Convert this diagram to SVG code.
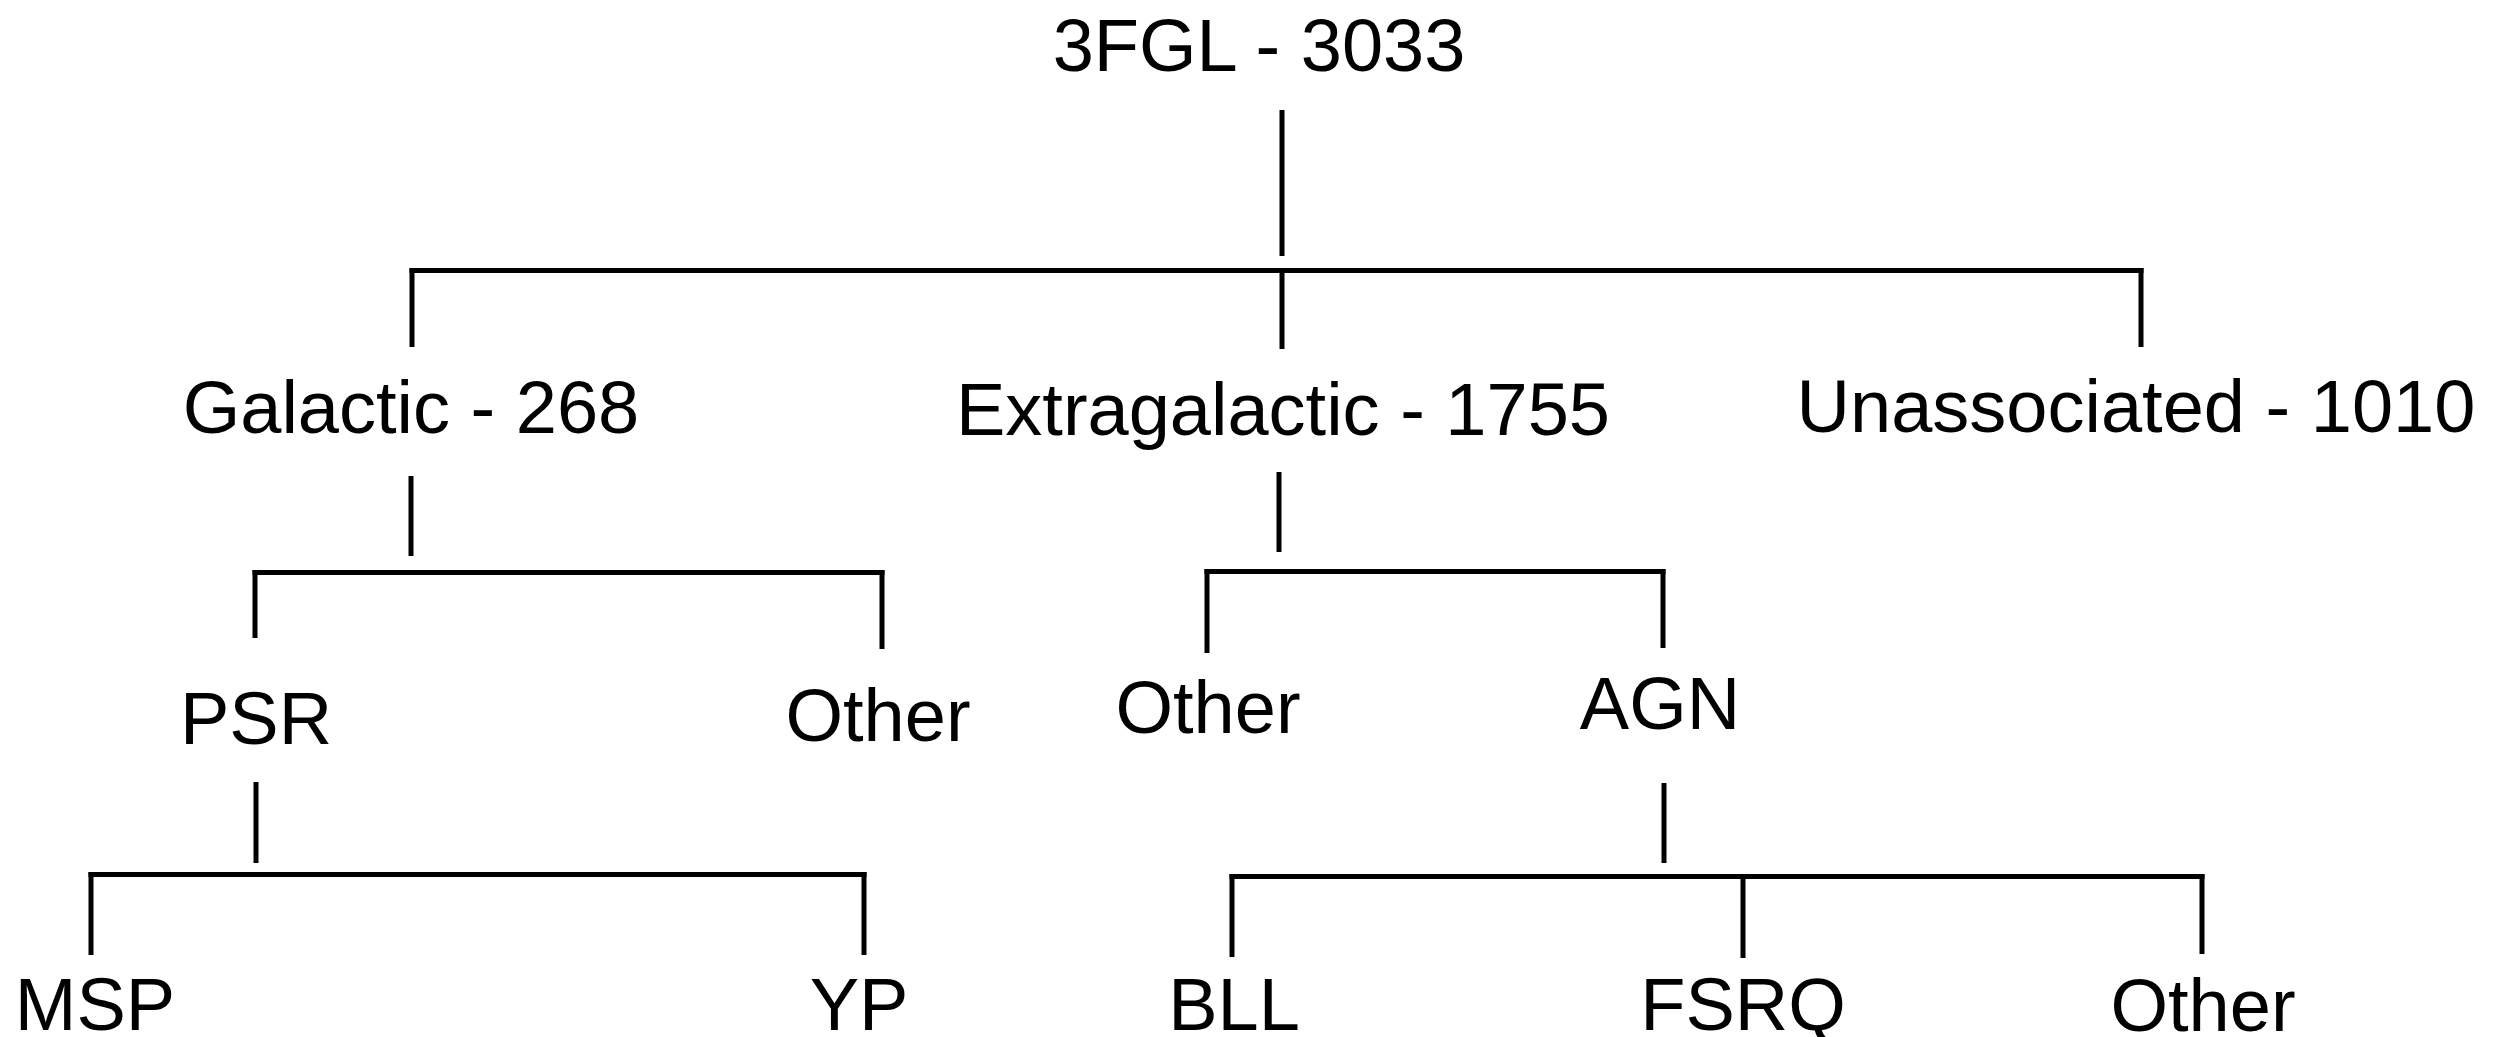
<svg xmlns="http://www.w3.org/2000/svg" width="2514" height="1037" viewBox="0 0 2514 1037">
  <style>
    .lbl { font-family: "Liberation Sans", Arial, Helvetica, sans-serif; font-size: 74px; fill: #000; text-anchor: middle; }
    .ln { stroke: #000; stroke-width: 5; fill: none; stroke-linecap: butt; }
  </style>
  <rect x="0" y="0" width="2514" height="1037" fill="#fff"/>

  <!-- tree connectors -->
  <g id="connectors" class="ln">
    <!-- root -->
    <line x1="1282" y1="110" x2="1282" y2="256"/>
    <line x1="409.5" y1="270.5" x2="2143.5" y2="270.5"/>
    <line x1="412" y1="268" x2="412" y2="347"/>
    <line x1="1282" y1="270" x2="1282" y2="349"/>
    <line x1="2141" y1="268" x2="2141" y2="347"/>

    <!-- galactic -->
    <line x1="411" y1="476" x2="411" y2="556"/>
    <line x1="252.5" y1="572.5" x2="884.5" y2="572.5"/>
    <line x1="255" y1="570" x2="255" y2="638"/>
    <line x1="882" y1="570" x2="882" y2="649"/>

    <!-- psr -->
    <line x1="256" y1="782" x2="256" y2="863"/>
    <line x1="88.5" y1="874.5" x2="866.5" y2="874.5"/>
    <line x1="91" y1="872" x2="91" y2="955"/>
    <line x1="864" y1="872" x2="864" y2="955"/>

    <!-- extragalactic -->
    <line x1="1279" y1="472" x2="1279" y2="552"/>
    <line x1="1204.5" y1="571.5" x2="1665.5" y2="571.5"/>
    <line x1="1207" y1="569" x2="1207" y2="653"/>
    <line x1="1663" y1="569" x2="1663" y2="648"/>

    <!-- agn -->
    <line x1="1664" y1="783" x2="1664" y2="863"/>
    <line x1="1229.5" y1="876.5" x2="2204.5" y2="876.5"/>
    <line x1="1232" y1="874" x2="1232" y2="957"/>
    <line x1="1743" y1="874" x2="1743" y2="958"/>
    <line x1="2202" y1="874" x2="2202" y2="954"/>
  </g>

  <!-- nodes -->
  <g id="root"><text class="lbl" x="1259" y="71">3FGL - 3033</text></g>
  <g id="galactic"><text class="lbl" x="411" y="433">Galactic - 268</text></g>
  <g id="extragalactic"><text class="lbl" x="1283" y="435">Extragalactic - 1755</text></g>
  <g id="unassociated"><text class="lbl" x="2136" y="432">Unassociated - 1010</text></g>
  <g id="psr"><text class="lbl" x="256" y="744">PSR</text></g>
  <g id="galactic-other"><text class="lbl" x="878" y="741">Other</text></g>
  <g id="extragalactic-other"><text class="lbl" x="1208" y="733">Other</text></g>
  <g id="agn"><text class="lbl" x="1660" y="729">AGN</text></g>
  <g id="msp"><text class="lbl" x="95" y="1030">MSP</text></g>
  <g id="yp"><text class="lbl" x="859" y="1030">YP</text></g>
  <g id="bll"><text class="lbl" x="1234" y="1030">BLL</text></g>
  <g id="fsrq"><text class="lbl" x="1743" y="1030">FSRQ</text></g>
  <g id="agn-other"><text class="lbl" x="2203" y="1031">Other</text></g>
</svg>
